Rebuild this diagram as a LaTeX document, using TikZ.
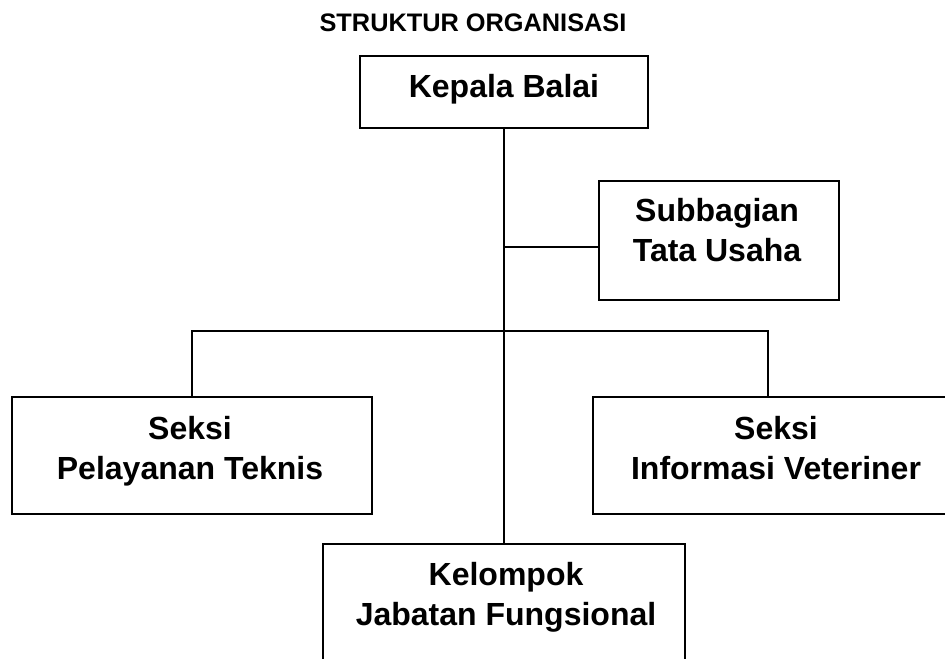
\documentclass[tikz,border=0pt]{standalone}
\usepackage{fontspec}
\setmainfont{Liberation Sans}
\begin{document}
\begin{tikzpicture}[x=0.75pt,y=-0.75pt,line width=1.1pt,
    every node/.style={font=\bfseries\fontsize{24}{30}\selectfont},
    box/.style={draw,inner sep=0pt},
    lbl/.style={anchor=north,align=center,inner sep=0pt}]
   \clip (0,0) rectangle (945,659);
   \node [lbl,font=\bfseries\fontsize{19}{23}\selectfont] (judul) at (473,13) {STRUKTUR ORGANISASI};
   \node [box,minimum width=216pt,minimum height=54pt] (kepala) at (504,92) {};
   \node [lbl] (kepalatxt) at (504,74) {Kepala Balai};
   \node [box,minimum width=180pt,minimum height=89.25pt] (tu) at (719,240.5) {};
   \node [lbl] (tutxt) at (717,198) {Subbagian\\Tata Usaha};
   \node [box,minimum width=270pt,minimum height=87.75pt] (pelayanan) at (192,455.5) {};
   \node [lbl] (pelayanantxt) at (190,416) {Seksi\\Pelayanan Teknis};
   \node [box,minimum width=271.5pt,minimum height=87.75pt] (informasi) at (774,455.5) {};
   \node [lbl] (informasitxt) at (776,416) {Seksi\\Informasi Veteriner};
   \node [box,minimum width=271.5pt,minimum height=88.5pt] (kelompok) at (504,603) {};
   \node [lbl] (kelompoktxt) at (506,562) {Kelompok\\Jabatan Fungsional};
   \coordinate (cabangtu) at (504,247);
   \coordinate (bus) at (768,331);
   \draw (kepala.south) -- (kelompok.north);
   \draw (cabangtu) -- (cabangtu -| tu.west);
   \draw (pelayanan.north) |- (bus) -- (bus |- informasi.north);
  \end{tikzpicture}
\end{document}
